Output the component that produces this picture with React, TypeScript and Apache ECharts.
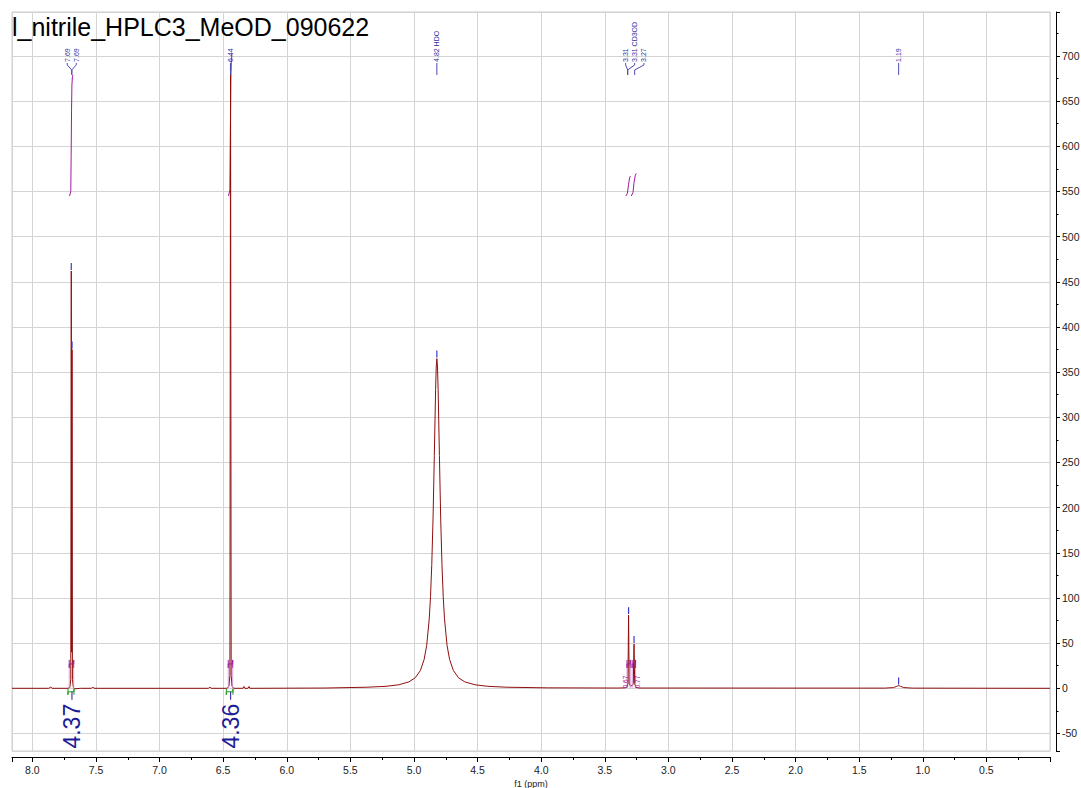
import React, { useEffect, useRef } from 'react';
import * as echarts from 'echarts';

const chartTitle = 'l_nitrile_HPLC3_MeOD_090622';
const xAxisName = 'f1 (ppm)';

// ppm range (reversed axis) and intensity range
const ppmMin = 0;
const ppmMax = 8.16;
const intensityMin = -69.4;
const intensityMax = 748.7;

// 1H spectrum trace: [ppm, intensity]
const spectrumPoints: [number, number][] = [
  [8.16, 0], [7.87, 0], [7.855, 1.5], [7.845, 0],
  [7.72, 0], [7.705, 1], [7.698, 10], [7.694, 462], [7.691, 40], [7.688, 375], [7.685, 10], [7.678, 1], [7.665, -0.5], [7.62, 0],
  [7.535, 0], [7.525, 1.5], [7.515, 0],
  [6.615, 0], [6.605, 1.5], [6.595, 0],
  [6.47, 0], [6.455, 2], [6.447, 14], [6.442, 682], [6.437, 14], [6.43, 2], [6.415, 0],
  [6.345, 0], [6.337, 2], [6.33, 0], [6.305, 0], [6.297, 2], [6.29, 0],
  [5.7, 0.3], [5.37, 1.2], [5.22, 2.2], [5.12, 3.9], [5.04, 7.1], [4.99, 11.7], [4.95, 19.6], [4.92, 32],
  [4.9, 47.6], [4.88, 76.9], [4.87, 101.4], [4.86, 137], [4.85, 188.4], [4.84, 257.7], [4.83, 330.6], [4.825, 355.7], [4.82, 365],
  [4.815, 355.7], [4.81, 330.6], [4.8, 257.7], [4.79, 188.4], [4.78, 137], [4.77, 101.4], [4.76, 76.9], [4.74, 47.6],
  [4.72, 32], [4.69, 19.6], [4.65, 11.7], [4.6, 7.1], [4.52, 3.9], [4.42, 2.2], [4.27, 1.2], [3.95, 0.5], [3.4, 0.3],
  [3.34, 0.5], [3.325, 1.5], [3.318, 5], [3.313, 81], [3.308, 5], [3.298, 2.5], [3.285, 3], [3.276, 5], [3.27, 49],
  [3.265, 5], [3.255, 1], [3.23, 0.3],
  [1.3, 0.2], [1.23, 0.8], [1.205, 2.2], [1.19, 3], [1.175, 2.2], [1.15, 0.8], [1.08, 0.2],
  [0, 0],
];

// integral curves: [ppm, intensity]
const integral769: [number, number][] = [[7.708, 545], [7.698, 550], [7.695, 590], [7.692, 640], [7.689, 668], [7.685, 677], [7.68, 679]];
const integral644: [number, number][] = [[6.458, 545], [6.447, 552], [6.443, 620], [6.439, 680], [6.435, 698], [6.43, 703]];
const integral331: [number, number][] = [[3.335, 545], [3.322, 548], [3.313, 558], [3.305, 565], [3.299, 567]];
const integral327: [number, number][] = [[3.292, 545], [3.278, 549], [3.27, 560], [3.26, 568], [3.253, 570]];

// peak labels at top
const peakLabelText = ['7.69', '7.69', '6.44', '4.82 HDO', '3.31', '3.31 CD3OD', '3.27', '1.19'];
const peakLabelPpm = [7.726, 7.655, 6.442, 4.82, 3.336, 3.265, 3.192, 1.19];
const peakLabelStemPpm = [7.69, 7.69, 6.442, 4.82, 3.32, 3.32, 3.265, 1.19];
const labelStemEndValue = 679;

// peak-pick markers on the peak tops
const peakMarkPpm = [7.694, 7.688, 6.442, 4.82, 3.313, 3.27, 1.19];
const peakMarkValue = [462, 375, 682, 365, 81, 49, 3];

// integration regions on the baseline
const integralFrom = [7.72, 6.475];
const integralTo = [7.673, 6.423];
const integralValueText = ['4.37', '4.36'];

// multiplet boxes
const multipletFrom = [7.71, 6.46, 3.325, 3.285];
const multipletTo = [7.675, 6.425, 3.3, 3.258];
const multipletText = ['', '', '0.67', '0.77'];
const multipletTextPpm = [7.69, 6.44, 3.34, 3.245];

const FONT = '"Liberation Sans", Arial, Helvetica, sans-serif';

export default function App() {
  const ref = useRef<HTMLDivElement>(null);

  useEffect(() => {
    if (!ref.current) return;
    const chart = echarts.init(ref.current, undefined, { renderer: 'svg' });

    const isMultiple = (v: number, step: number) => Math.abs(v / step - Math.round(v / step)) < 1e-6;

    const option: any = {
      animation: false,
      backgroundColor: '#ffffff',
      textStyle: { fontFamily: FONT },
      grid: {
        left: 12, right: 31, top: 12, bottom: 37,
        show: true, borderColor: '#cdcdcd', borderWidth: 1,
        containLabel: false, outerBoundsMode: 'none',
      },
      xAxis: {
        type: 'value', inverse: true, min: ppmMin, max: ppmMax, interval: 0.5,
        position: 'bottom', offset: 6,
        name: xAxisName, nameLocation: 'middle', nameGap: 20,
        nameTextStyle: { fontSize: 9, color: '#222', fontFamily: FONT },
        axisLine: { show: true, onZero: false, lineStyle: { color: '#000', width: 1 } },
        axisTick: { show: true, inside: false, length: 5, lineStyle: { color: '#000' } },
        minorTick: { show: true, splitNumber: 2, length: 3, lineStyle: { color: '#000' } },
        axisLabel: {
          fontSize: 10.5, color: '#222', margin: 7, fontFamily: FONT,
          showMinLabel: false, showMaxLabel: false,
          formatter: (v: number) => (isMultiple(v, 0.5) && v > 0.01 ? v.toFixed(1) : ''),
        },
        splitLine: { show: true, lineStyle: { color: '#d4d4d4', width: 1 } },
      },
      yAxis: {
        type: 'value', min: intensityMin, max: intensityMax, splitNumber: 16,
        position: 'right', offset: 6,
        axisLine: { show: true, onZero: false, lineStyle: { color: '#000', width: 1 } },
        axisTick: { show: true, inside: false, length: 4, lineStyle: { color: '#000' } },
        minorTick: { show: true, splitNumber: 2, length: 2.5, lineStyle: { color: '#000' } },
        axisLabel: {
          fontSize: 10.5, color: '#222', margin: 6, fontFamily: FONT,
          showMinLabel: false, showMaxLabel: false,
          formatter: (v: number) => (isMultiple(v, 50) ? String(Math.round(v)) : ''),
        },
        splitLine: { show: true, lineStyle: { color: '#d4d4d4', width: 1 } },
      },
      graphic: [
        {
          type: 'text', x: 12, y: 27, z: 100,
          style: {
            text: chartTitle, fontSize: 25, fontFamily: FONT, fill: '#000',
            align: 'left', verticalAlign: 'middle', textAlign: 'left', textVerticalAlign: 'middle',
          },
        },
      ],
      series: [
        // integral curves
        ...[integral769, integral644, integral331, integral327].map((d) => ({
          type: 'line', data: d, symbol: 'none', silent: true, z: 3,
          lineStyle: { color: '#a01aa0', width: 1 },
        })),
        {
          type: 'line', data: spectrumPoints, symbol: 'none', silent: true, z: 4,
          lineStyle: { color: '#8e0f0f', width: 1 },
        },
        // peak-pick markers
        {
          type: 'custom', silent: true, z: 5,
          data: peakMarkPpm.map((p, i) => [p, peakMarkValue[i]]),
          renderItem: (params: any, api: any) => {
            const i = params.dataIndex;
            const a = api.coord([peakMarkPpm[i], peakMarkValue[i]]);
            return {
              type: 'line',
              shape: { x1: a[0], y1: a[1] - 1, x2: a[0], y2: a[1] - 8 },
              style: { stroke: '#3b3bc8', lineWidth: 1.2 },
            };
          },
        },
        // peak labels at top
        {
          type: 'custom', silent: true, z: 6,
          data: peakLabelPpm.map((p) => [p, labelStemEndValue]),
          renderItem: (params: any, api: any) => {
            const i = params.dataIndex;
            const tx = api.coord([peakLabelPpm[i], labelStemEndValue])[0];
            const sx = api.coord([peakLabelStemPpm[i], labelStemEndValue])[0];
            const yEnd = api.coord([peakLabelStemPpm[i], labelStemEndValue])[1];
            const yTxt = yEnd - 13;
            const pts = Math.abs(tx - sx) < 0.5
              ? [[tx, yTxt + 1], [tx, yEnd]]
              : [[tx, yTxt + 1], [tx, yTxt + 3], [sx, yTxt + 8], [sx, yEnd]];
            return {
              type: 'group',
              children: [
                {
                  type: 'text', x: tx, y: yTxt, rotation: Math.PI / 2,
                  style: {
                    text: peakLabelText[i], fill: '#3030a0', fontSize: 7, fontFamily: FONT,
                    align: 'left', verticalAlign: 'middle', textAlign: 'left', textVerticalAlign: 'middle',
                  },
                },
                {
                  type: 'polyline', shape: { points: pts },
                  style: { stroke: '#4d4db0', lineWidth: 1, fill: null },
                },
              ],
            };
          },
        },
        // integration regions + values
        {
          type: 'custom', silent: true, z: 6,
          data: integralFrom.map((p) => [p, 0]),
          renderItem: (params: any, api: any) => {
            const i = params.dataIndex;
            const a = api.coord([integralFrom[i], 0]);
            const b = api.coord([integralTo[i], 0]);
            const y = a[1] + 3.5;
            const xc = (a[0] + b[0]) / 2 + 1;
            return {
              type: 'group',
              children: [
                {
                  type: 'polyline',
                  shape: { points: [[a[0], y - 3], [a[0], y + 3], [a[0], y], [b[0], y], [b[0], y - 3], [b[0], y + 3]] },
                  style: { stroke: '#1f9a1f', lineWidth: 1, fill: null },
                },
                {
                  type: 'line', shape: { x1: xc, y1: y, x2: xc, y2: y + 8 },
                  style: { stroke: '#1c1c96', lineWidth: 1 },
                },
                {
                  type: 'text', x: xc, y: y + 12, rotation: Math.PI / 2,
                  style: {
                    text: integralValueText[i], fill: '#1c1c96', fontSize: 23, fontFamily: FONT,
                    align: 'right', verticalAlign: 'middle', textAlign: 'right', textVerticalAlign: 'middle',
                  },
                },
              ],
            };
          },
        },
        // multiplet boxes
        {
          type: 'custom', silent: true, z: 5,
          data: multipletFrom.map((p) => [p, 25]),
          renderItem: (params: any, api: any) => {
            const i = params.dataIndex;
            const a = api.coord([multipletFrom[i], 27]);
            const b = api.coord([multipletTo[i], 27]);
            const base = api.coord([multipletFrom[i], 0])[1];
            const tx = api.coord([multipletTextPpm[i], 0])[0];
            const children: any[] = [
              {
                type: 'polyline',
                shape: { points: [[a[0], a[1] - 4], [a[0], a[1] + 4], [a[0], a[1]], [b[0], a[1]], [b[0], a[1] - 4], [b[0], a[1] + 4]] },
                style: { stroke: '#a01aa0', lineWidth: 1, fill: null },
              },
              {
                type: 'line', shape: { x1: a[0], y1: a[1] + 4, x2: a[0], y2: base },
                style: { stroke: '#d08ad0', lineWidth: 0.8 },
              },
              {
                type: 'line', shape: { x1: b[0], y1: a[1] + 4, x2: b[0], y2: base },
                style: { stroke: '#d08ad0', lineWidth: 0.8 },
              },
            ];
            if (multipletText[i]) {
              children.push({
                type: 'text', x: tx, y: base, rotation: Math.PI / 2,
                style: {
                  text: multipletText[i], fill: '#a01aa0', fontSize: 6.5, fontFamily: FONT,
                  align: 'left', verticalAlign: 'middle', textAlign: 'left', textVerticalAlign: 'middle',
                },
              });
            }
            return { type: 'group', children };
          },
        },
      ],
    };

    chart.setOption(option);
    return () => chart.dispose();
  }, []);

  return (
    <div
      ref={ref}
      style={{ position: 'absolute', left: 0, top: 0, width: 1081, height: 788, background: '#fff' }}
    />
  );
}
